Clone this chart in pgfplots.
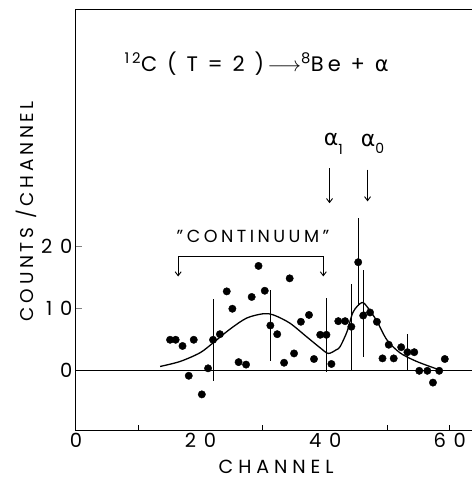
\documentclass[border=0pt]{standalone}
\usepackage{fontspec}
\setmainfont{Poppins}[LetterSpace=20]
\newfontfamily\gr{DejaVu Sans}
\usepackage{pgfplots}
\pgfplotsset{compat=1.18}
\usetikzlibrary{arrows.meta}
\begin{document}
\begin{tikzpicture}
\useasboundingbox (-76pt,-50pt) rectangle (395pt,431pt);
\begin{axis}[
  scale only axis, width=398.7pt, height=422pt,
  xmin=0, xmax=64, ymin=-9.7, ymax=58.3,
  clip=false,
  axis line style={line width=1pt},
  tick align=inside,
  xtick pos=bottom, ytick pos=left,
  xtick={0,20,40,60}, xtick style={draw=none},
  extra x ticks={10,30,50,60}, extra x tick labels={},
  extra x tick style={xtick style={draw=black,line width=1pt}, major tick length=6pt},
  ytick={0,10,20}, ytick style={line width=1pt}, major tick length=6pt,
  /pgf/number format/assume math mode=true,
  ticklabel style={font=\fontsize{19.5}{19.5}\selectfont\addfontfeature{LetterSpace=40}},
  xticklabel style={yshift=1pt},
  yticklabel style={xshift=0pt},
]
\addplot[black, line width=1pt] coordinates {(0,0) (64,0)};
\addplot[black, line width=1.3pt, smooth, tension=0.5] coordinates {
(13.5,0.7) (16.7,1.5) (19.9,2.9) (22.0,4.5) (24.7,6.7) (27.4,8.5) (30.1,9.2) (31.7,9.0)
(34.3,7.7) (37.0,5.5) (39.2,3.7) (40.5,2.8) (41.8,3.4) (42.4,3.9) (43.5,6.3) (44.5,9.5)
(45.9,11.0) (46.9,10.1) (48.3,8.0) (49.9,5.0) (52.0,2.9) (54.7,1.5) (58.2,0.2)};
\addplot[black, only marks, mark=none, error bars/.cd, y dir=both, y explicit, error mark=none,
  error bar style={line width=0.9pt}] coordinates {
(22.0,5.0) +- (0,6.6)
(31.2,7.3) +- (0,5.7)
(40.2,5.8) +- (0,6.0)
(44.2,7.1) +- (0,6.9)
(45.3,17.5) +- (0,7.1)
(46.2,9.2) +- (0,7.0)
(53.2,3.0) +- (0,2.9)};
\addplot[black, only marks, mark=*, mark size=3.7pt] coordinates {
(15.1,5.0) (16.0,5.0) (17.1,4.0) (18.1,-0.8) (18.9,5.0) (20.2,-3.8) (21.2,0.4) (22.0,5.0)
(23.1,5.9) (24.2,12.8) (25.1,10.0) (26.1,1.4) (27.3,1.0) (28.2,11.9) (29.3,16.9) (30.3,12.9)
(31.2,7.3) (32.3,5.9) (33.4,1.3) (34.3,14.9) (35.0,2.8) (36.1,7.9) (37.4,9.0) (38.2,1.9)
(39.2,5.8) (40.2,5.8) (41.0,1.1) (42.1,8.0) (43.2,8.0) (44.2,7.1) (45.3,17.5) (46.1,8.9)
(47.2,9.4) (48.3,7.9) (49.2,2.0) (50.2,4.2) (51.0,2.0) (52.2,3.8) (53.2,3.0) (54.3,3.0)
(55.1,0) (56.4,0) (57.3,-1.9) (58.3,0) (59.2,1.9)};
\node at (axis cs:29.0,49.5) {\fontsize{21}{21}\selectfont\textsuperscript{12}C ( T = 2 )\,$\longrightarrow$\textsuperscript{8}Be + {\gr α}};
\node at (axis cs:41.3,36.6) {\fontsize{22}{22}\selectfont{\gr α}\raisebox{-0.7ex}{\fontsize{14}{14}\selectfont 1}};
\node at (axis cs:47.6,36.6) {\fontsize{22}{22}\selectfont{\gr α}\raisebox{-0.6ex}{\fontsize{14}{14}\selectfont 0}};
\draw[line width=0.9pt, -{Straight Barb[length=4pt,width=6pt]}] (axis cs:40.7,32.6) -- (axis cs:40.7,27.0);
\draw[line width=0.9pt, -{Straight Barb[length=4pt,width=6pt]}] (axis cs:46.8,32.4) -- (axis cs:46.8,27.3);
\node at (axis cs:28.4,21.6) {\fontsize{17.5}{17.5}\selectfont "CONTINUUM"};
\draw[line width=0.9pt, {Straight Barb[length=4pt,width=6pt]}-{Straight Barb[length=4pt,width=6pt]}]
  (axis cs:16.4,15.2) -- (axis cs:16.4,18.4) -- (axis cs:39.7,18.4) -- (axis cs:39.7,15.2);
\node[rotate=90] at (axis description cs:-0.125,0.521) {\fontsize{18.5}{18.5}\selectfont COUNTS /CHANNEL};
\node[anchor=base, inner sep=0pt] at ([yshift=-42pt]axis description cs:0.502,0) {\fontsize{19}{19}\selectfont\addfontfeature{LetterSpace=26}CHANNEL};
\end{axis}
\end{tikzpicture}
\end{document}
